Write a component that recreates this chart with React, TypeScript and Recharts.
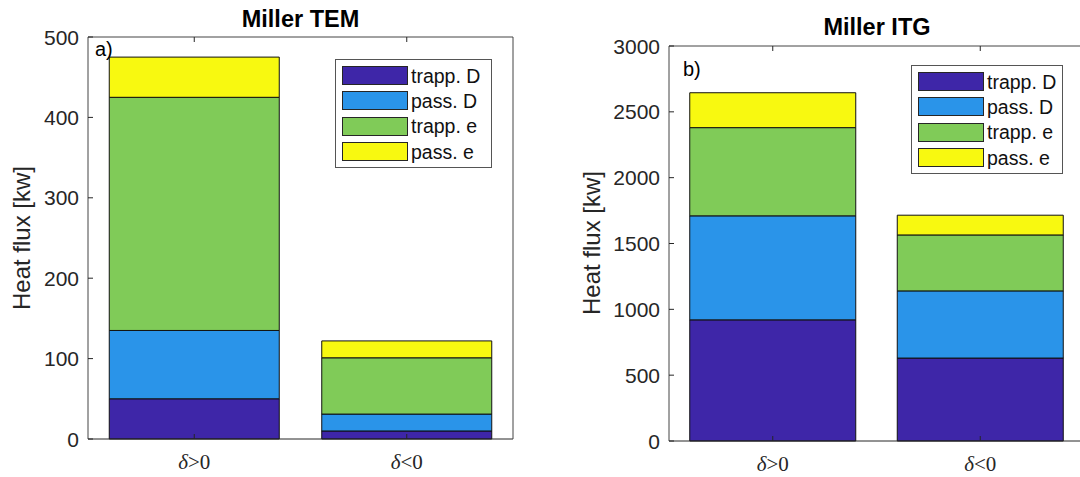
import React from 'react';
import { BarChart, Bar, XAxis, YAxis, Legend } from 'recharts';

const categories = ['δ>0', 'δ<0'];
const seriesNames = ['trapp. D', 'pass. D', 'trapp. e', 'pass. e'];
const seriesColors = ['#3E26A8', '#2A94E9', '#80CB58', '#F8F910'];

// Miller TEM, one value per category
const temTrappD = [50, 10];
const temPassD = [85, 21];
const temTrappE = [290, 70];
const temPassE = [50, 21];
const temTicks = [0, 100, 200, 300, 400, 500];

// Miller ITG
const itgTrappD = [920, 630];
const itgPassD = [790, 510];
const itgTrappE = [670, 425];
const itgPassE = [265, 150];
const itgTicks = [0, 500, 1000, 1500, 2000, 2500, 3000];

const SANS = '"Liberation Sans", Arial, Helvetica, sans-serif';
const SERIF = '"Liberation Serif", "Times New Roman", serif';
const AXIS = '#262626';
const TEXT = '#262626';

const buildRows = (cols: number[][]) =>
  categories.map((name, i) => {
    const row: Record<string, string | number> = { name };
    seriesNames.forEach((s, k) => {
      row[s] = cols[k][i];
    });
    return row;
  });

const temData = buildRows([temTrappD, temPassD, temTrappE, temPassE]);
const itgData = buildRows([itgTrappD, itgPassD, itgTrappE, itgPassE]);

const TICK = 5;

const LeftTick = (props: any) => {
  const { x, y, payload } = props;
  return (
    <g>
      <line x1={x} x2={x + TICK} y1={y} y2={y} stroke={AXIS} />
      <text x={x - 9} y={y} dy={7.5} textAnchor="end" fontSize={21} fill={TEXT} fontFamily={SANS}>
        {payload.value}
      </text>
    </g>
  );
};

const RightTick = (props: any) => {
  const { x, y } = props;
  return <line x1={x} x2={x - TICK} y1={y} y2={y} stroke={AXIS} />;
};

const BottomTick = (props: any) => {
  const { x, y, payload } = props;
  const label = String(payload.value);
  return (
    <g>
      <line x1={x} x2={x} y1={y} y2={y - TICK} stroke={AXIS} />
      <text x={x} y={y} dy={30} textAnchor="middle" fontSize={21} fill={TEXT} fontFamily={SERIF}>
        <tspan fontStyle="italic">{label.charAt(0)}</tspan>
        <tspan>{label.slice(1)}</tspan>
      </text>
    </g>
  );
};

const TopTick = (props: any) => {
  const { x, y } = props;
  return <line x1={x} x2={x} y1={y} y2={y + TICK} stroke={AXIS} />;
};

const LegendBox = (props: any) => {
  const items = [...(props.payload || [])].sort(
    (a: any, b: any) => seriesNames.indexOf(a.value) - seriesNames.indexOf(b.value)
  );
  return (
    <div
      style={{
        border: '1px solid #555',
        background: '#fff',
        padding: '3px 0 3px 6px',
        boxSizing: 'border-box',
        width: '100%',
      }}
    >
      {items.map((p: any) => (
        <div key={p.value} style={{ display: 'flex', alignItems: 'center', height: 25.3 }}>
          <span
            style={{
              display: 'inline-block',
              width: 66,
              height: 19,
              background: p.color,
              border: '1px solid #262626',
              boxSizing: 'border-box',
            }}
          />
          <span style={{ marginLeft: 3, fontFamily: SANS, fontSize: 19.5, color: '#111', lineHeight: '20px' }}>
            {p.value}
          </span>
        </div>
      ))}
    </div>
  );
};

type PanelProps = {
  data: any[];
  ticks: number[];
  width: number;
  height: number;
  margin: { top: number; right: number; bottom: number; left: number };
  legendPos: { left: number; top: number; width: number };
};

const Panel = ({ data, ticks, width, height, margin, legendPos }: PanelProps) => {
  const domain = [ticks[0], ticks[ticks.length - 1]];
  return (
    <BarChart width={width} height={height} data={data} margin={margin} barCategoryGap="10%">
      <XAxis
        dataKey="name"
        xAxisId="b"
        height={1}
        tickSize={0}
        tickMargin={0}
        tickLine={false}
        axisLine={{ stroke: AXIS }}
        tick={<BottomTick />}
        interval={0}
      />
      <XAxis
        dataKey="name"
        xAxisId="t"
        orientation="top"
        height={1}
        tickSize={0}
        tickMargin={0}
        tickLine={false}
        axisLine={{ stroke: '#444' }}
        tick={<TopTick />}
        interval={0}
      />
      <YAxis
        yAxisId="l"
        width={1}
        domain={domain}
        ticks={ticks}
        tickSize={0}
        tickMargin={0}
        tickLine={false}
        axisLine={{ stroke: '#444' }}
        tick={<LeftTick />}
        interval={0}
      />
      <YAxis
        yAxisId="r"
        orientation="right"
        width={1}
        domain={domain}
        ticks={ticks}
        tickSize={0}
        tickMargin={0}
        tickLine={false}
        axisLine={{ stroke: '#444' }}
        tick={<RightTick />}
        interval={0}
      />
      {seriesNames.map((s, k) => (
        <Bar
          key={s}
          dataKey={s}
          stackId="a"
          xAxisId="b"
          yAxisId="l"
          fill={seriesColors[k]}
          stroke="#111"
          strokeWidth={1}
          isAnimationActive={false}
        />
      ))}
      <Legend
        layout="vertical"
        align="center"
        verticalAlign="middle"
        content={<LegendBox />}
        wrapperStyle={{ left: legendPos.left, top: legendPos.top, width: legendPos.width, height: 'auto' }}
      />
    </BarChart>
  );
};

const App = () => {
  return (
    <div
      style={{
        position: 'absolute',
        left: 0,
        top: 0,
        width: 1080,
        height: 477,
        background: '#fff',
        overflow: 'hidden',
      }}
    >
      <div style={{ position: 'absolute', left: 0, top: 0 }}>
        <Panel
          data={temData}
          ticks={temTicks}
          width={540}
          height={477}
          margin={{ top: 36, right: 26, bottom: 37, left: 87 }}
          legendPos={{ left: 335, top: 59, width: 157 }}
        />
      </div>
      <div style={{ position: 'absolute', left: 540, top: 0 }}>
        <Panel
          data={itgData}
          ticks={itgTicks}
          width={560}
          height={477}
          margin={{ top: 45, right: 15, bottom: 35, left: 128 }}
          legendPos={{ left: 371, top: 65, width: 152 }}
        />
      </div>
      <svg
        width={1080}
        height={477}
        style={{ position: 'absolute', left: 0, top: 0, pointerEvents: 'none' }}
      >
        <text x={300.5} y={27} textAnchor="middle" fontFamily={SANS} fontWeight="bold" fontSize={23.5} fill="#000">
          Miller TEM
        </text>
        <text x={877} y={35} textAnchor="middle" fontFamily={SANS} fontWeight="bold" fontSize={23.5} fill="#000">
          Miller ITG
        </text>
        <text
          transform="translate(30,238) rotate(-90)"
          textAnchor="middle"
          fontFamily={SANS}
          fontSize={24}
          fill={TEXT}
        >
          Heat flux [kw]
        </text>
        <text
          transform="translate(600,243) rotate(-90)"
          textAnchor="middle"
          fontFamily={SANS}
          fontSize={24}
          fill={TEXT}
        >
          Heat flux [kw]
        </text>
        <text x={95} y={56} fontFamily={SANS} fontSize={20} fill="#000">
          a)
        </text>
        <text x={683} y={76} fontFamily={SANS} fontSize={20} fill="#000">
          b)
        </text>
      </svg>
    </div>
  );
};

export default App;
